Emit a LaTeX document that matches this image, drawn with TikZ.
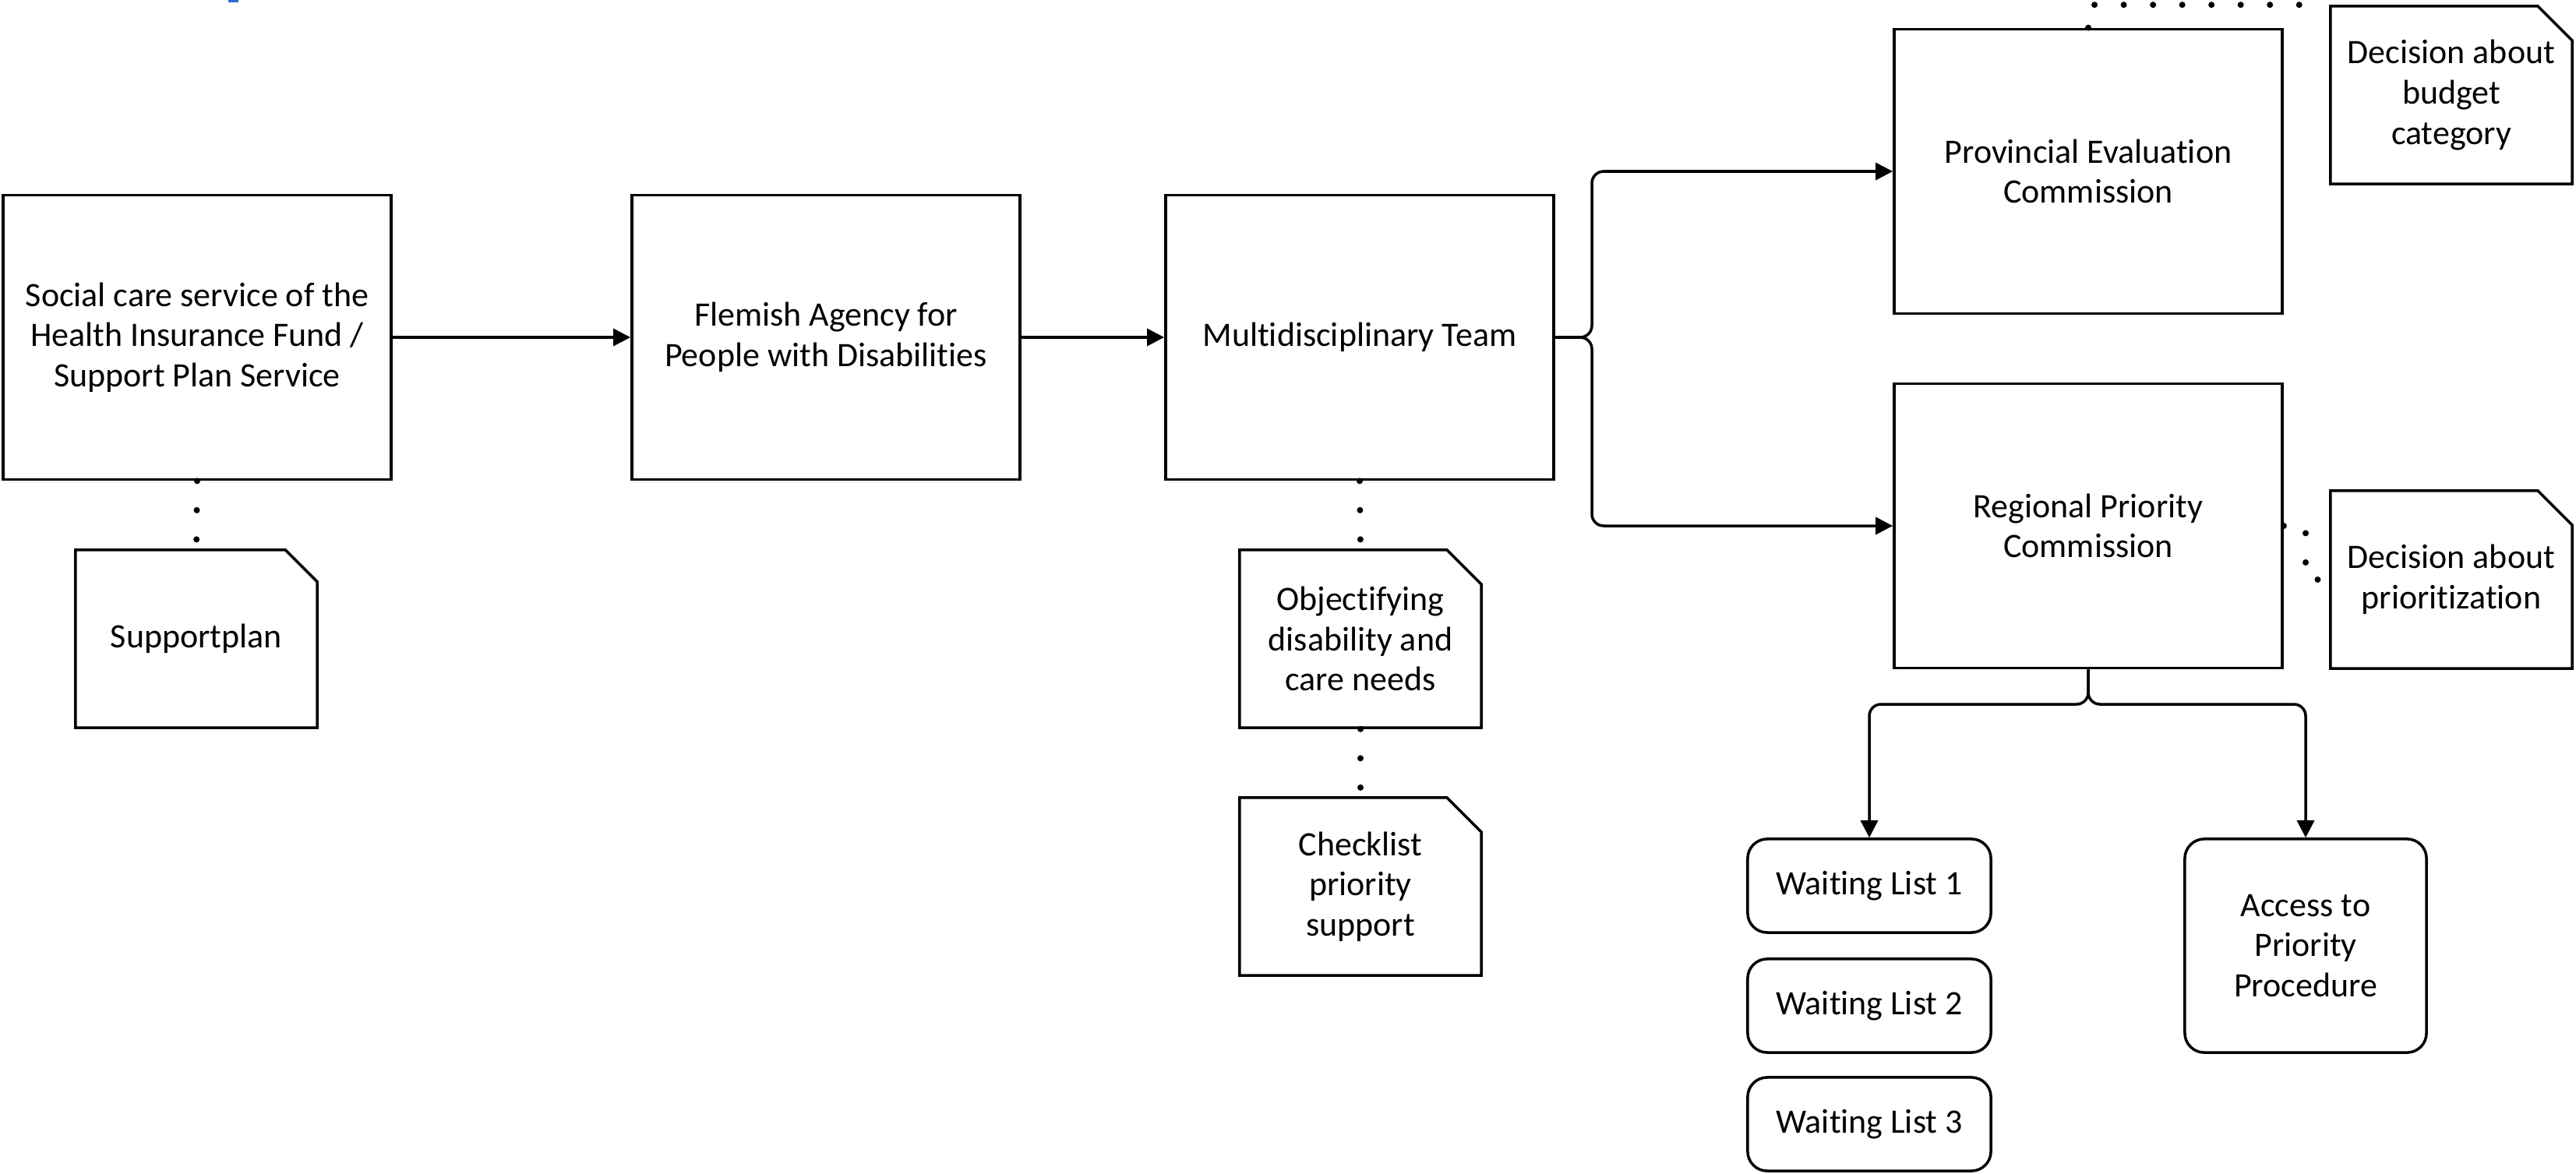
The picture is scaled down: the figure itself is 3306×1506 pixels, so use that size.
\documentclass[tikz,border=0pt]{standalone}
\usepackage{fontspec}
\setmainfont{Carlito}[Ligatures=NoCommon]
\usetikzlibrary{arrows.meta,shapes.misc}
\definecolor{markblue}{RGB}{40,110,210}

\begin{document}
\begin{tikzpicture}[x=0.01cm,y=-0.01cm,
        font=\fontsize{12.5pt}{14.7pt}\selectfont,
        line width=1pt,
        box/.style={draw,rectangle,align=center,minimum width=4.98cm,minimum height=3.65cm,inner sep=0pt},
        docbox/.style={draw,chamfered rectangle,chamfered rectangle corners=north east,
            chamfered rectangle xsep=0.22cm,chamfered rectangle ysep=0.22cm,
            align=center,minimum width=3.1cm,minimum height=2.28cm,inner sep=0pt},
        listbox/.style={draw,rectangle,rounded corners=0.25cm,align=center,inner sep=0pt},
        link/.style={-{Triangle[length=0.22cm,width=0.22cm]},rounded corners=0.15cm},
        assoc/.style={line width=0.08cm,line cap=round,dash pattern=on 0pt off 0.375cm}]
        \useasboundingbox (0,0) rectangle (3306,1506);
        \fill[markblue] (293,0) rectangle (306,3);
        %% Nodes
        \node[box] (care) at (253,433) {Social care service of the\\Health Insurance Fund /\\Support Plan Service};
        \node[box] (agency) at (1060,433) {Flemish Agency for\\People with Disabilities};
        \node[box] (team) at (1745,433) {Multidisciplinary Team};
        \node[box] (prov) at (2680,220) {Provincial Evaluation\\Commission};
        \node[box] (reg) at (2680,675) {Regional Priority\\Commission};
        %% Documents
        \node[docbox] (plan) at (252,820) {Supportplan};
        \node[docbox] (objective) at (1746,820) {Objectifying\\disability and\\care needs};
        \node[docbox] (checklist) at (1746,1138) {Checklist\\priority\\support};
        \node[docbox] (budget) at (3146,122) {Decision about\\budget\\category};
        \node[docbox] (prio) at (3146,744) {Decision about\\prioritization};
        %% Lists
        \node[listbox,minimum width=3.12cm,minimum height=1.2cm] (wait1) at (2399,1137) {Waiting List 1};
        \node[listbox,minimum width=3.12cm,minimum height=1.2cm] (wait2) at (2399,1291) {Waiting List 2};
        \node[listbox,minimum width=3.12cm,minimum height=1.2cm] (wait3) at (2399,1443) {Waiting List 3};
        \node[listbox,minimum width=3.1cm,minimum height=2.74cm] (access) at (2959,1214) {Access to\\Priority\\Procedure};
        %% Lines
        \draw[link] (care) -- (agency);
        \draw[link] (agency) -- (team);
        \draw[link] (team.east) -- (2043,433) |- (prov.west);
        \draw[link] (team.east) -- (2043,433) |- (reg.west);
        \draw[link] (reg.south) -- (2680,904) -| (wait1.north);
        \draw[link] (reg.south) -- (2680,904) -| (access.north);
        %% Dotted links
        \draw[assoc] (care.south) -- (plan.north);
        \draw[assoc] (team.south) -- (objective.north);
        \draw[assoc] (objective.south) -- (checklist.north);
        \coordinate (budgetend) at ([xshift=-0.2cm]budget.north west);
        \draw[assoc] (prov.north) |- (budgetend);
        \draw[assoc] (reg.east) -- (2959,675) |- (prio.west);
    \end{tikzpicture}
\end{document}
